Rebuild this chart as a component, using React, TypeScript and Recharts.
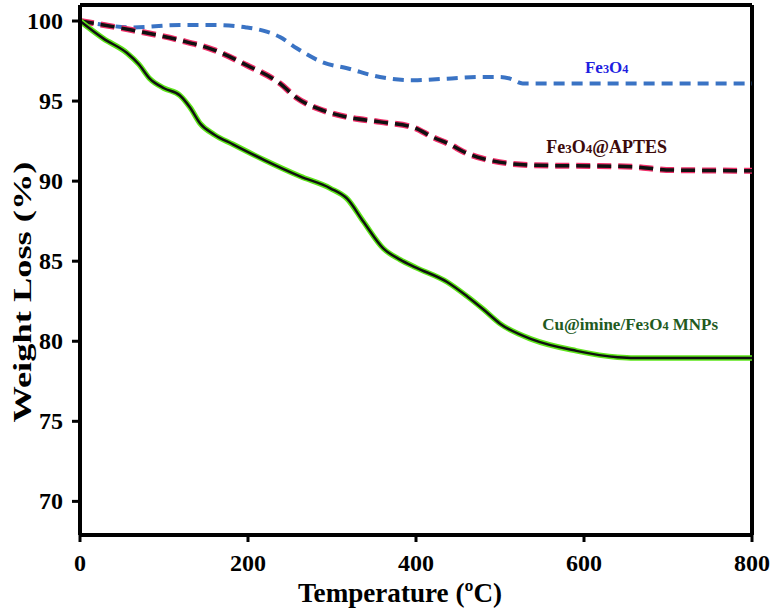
import React from 'react';
import { LineChart, Line, XAxis, YAxis, ReferenceDot, ReferenceLine } from 'recharts';

// temperature (°C) and weight (%)
const cuTemp = [0, 28, 56, 70, 83, 100, 119, 131, 143, 160, 182, 220, 262, 298, 318, 337, 361, 381, 400, 437, 461, 480, 500, 539, 591, 640, 660, 800];
const cuWeight = [100, 98.9, 98.0, 97.3, 96.4, 95.8, 95.35, 94.6, 93.6, 92.9, 92.3, 91.3, 90.3, 89.55, 88.9, 87.5, 85.8, 85.1, 84.6, 83.7, 82.8, 82.0, 81.1, 80.1, 79.4, 79.0, 78.95, 78.95];

const feTemp = [0, 30, 60, 119, 159, 198, 218, 238, 258, 290, 318, 357, 397, 437, 476, 500, 512, 527, 560, 800];
const feWeight = [100, 99.75, 99.6, 99.75, 99.75, 99.6, 99.4, 99.0, 98.3, 97.4, 97.05, 96.5, 96.3, 96.4, 96.5, 96.5, 96.4, 96.1, 96.1, 96.1];

const aptesTemp = [0, 60, 119, 159, 198, 238, 258, 290, 318, 357, 397, 420, 440, 460, 480, 539, 658, 698, 800];
const aptesWeight = [100, 99.45, 98.8, 98.2, 97.25, 96.1, 95.2, 94.4, 94.0, 93.7, 93.35, 92.75, 92.3, 91.75, 91.4, 91.0, 90.9, 90.7, 90.65];

const xTicks = [0, 200, 400, 600, 800];
const yTicks = [70, 75, 80, 85, 90, 95, 100];

const zip = (t: number[], w: number[]) => t.map((x, i) => ({ t: x, w: w[i] }));
const cuData = zip(cuTemp, cuWeight);
const feData = zip(feTemp, feWeight);
const aptesData = zip(aptesTemp, aptesWeight);

const FONT = '"Liberation Serif", "Times New Roman", serif';
const X_MAX = 800;
const Y_DOMAIN: [number, number] = [67.9, 101];

function XTick({ x, y, payload }: any) {
  return (
    <text x={x} y={y} dy={17} textAnchor="middle" fill="#000" fontSize={24} fontWeight="bold" fontFamily={FONT}>
      {payload.value}
    </text>
  );
}

function YTick({ x, y, payload }: any) {
  return (
    <text x={x} y={y} dy={8} textAnchor="end" fill="#000" fontSize={24} fontWeight="bold" fontFamily={FONT}>
      {payload.value}
    </text>
  );
}

// chemical formula with small digits
function Formula({ parts, size }: { parts: string[]; size: number }) {
  return (
    <>
      {parts.map((p, i) =>
        /^\d$/.test(p) ? (
          <tspan key={i} fontSize={size * 0.72}>{p}</tspan>
        ) : (
          <tspan key={i}>{p}</tspan>
        )
      )}
    </>
  );
}

function note(parts: string[], color: string, size: number) {
  return (props: any) => (
    <text
      x={props.cx}
      y={props.cy}
      textAnchor="middle"
      fill={color}
      fontSize={size}
      fontWeight="bold"
      fontFamily={FONT}
    >
      <Formula parts={parts} size={size} />
    </text>
  );
}

export default function App() {
  return (
    <div style={{ position: 'absolute', left: 0, top: 0, background: '#fff' }}>
      <LineChart width={774} height={615} margin={{ top: 5, right: 22, bottom: 0, left: 0 }}>
        <XAxis
          type="number"
          dataKey="t"
          domain={[0, X_MAX]}
          ticks={xTicks}
          height={80}
          axisLine={{ stroke: '#000', strokeWidth: 4 }}
          tickLine={{ stroke: '#000', strokeWidth: 3 }}
          tickSize={7}
          tickMargin={12}
          tick={<XTick />}
          label={{
            content: (p: any) => (
              <text
                x={p.viewBox.x + p.viewBox.width / 2 - 16}
                y={p.viewBox.y + 67}
                textAnchor="middle"
                fontSize={28}
                fontWeight="bold"
                fontFamily={FONT}
                fill="#000"
                textLength={204}
                lengthAdjust="spacingAndGlyphs"
              >
                Temperature (ºC)
              </text>
            ),
          }}
        />
        <YAxis
          type="number"
          domain={Y_DOMAIN}
          ticks={yTicks}
          allowDataOverflow
          width={80}
          axisLine={{ stroke: '#000', strokeWidth: 4 }}
          tickLine={{ stroke: '#000', strokeWidth: 3 }}
          tickSize={8}
          tickMargin={9}
          tick={<YTick />}
          label={{
            content: (p: any) => {
              const cx = 22;
              const cy = p.viewBox.y + p.viewBox.height / 2 + 22;
              return (
                <text
                  x={cx}
                  y={cy}
                  transform={`rotate(-90, ${cx}, ${cy})`}
                  textAnchor="middle"
                  dominantBaseline="central"
                  fontSize={26}
                  fontWeight="bold"
                  fontFamily={FONT}
                  fill="#000"
                  textLength={261}
                  lengthAdjust="spacingAndGlyphs"
                >
                  Weight Loss (%)
                </text>
              );
            },
          }}
        />

        {/* frame: top and right edges */}
        <ReferenceLine y={Y_DOMAIN[1]} stroke="#000" strokeWidth={4} />
        <ReferenceLine x={X_MAX} stroke="#000" strokeWidth={4} />

        <Line data={feData} dataKey="w" type="monotone" stroke="#3a73c4" strokeWidth={4}
          strokeDasharray="11 7" dot={false} isAnimationActive={false} />

        <Line data={aptesData} dataKey="w" type="monotone" stroke="#f0306a" strokeWidth={6}
          strokeDasharray="14 7" dot={false} isAnimationActive={false} />
        <Line data={aptesData} dataKey="w" type="monotone" stroke="#111" strokeWidth={3.5}
          strokeDasharray="14 7" dot={false} isAnimationActive={false} />

        <Line data={cuData} dataKey="w" type="monotone" stroke="#5ee61a" strokeWidth={5.5}
          dot={false} isAnimationActive={false} />
        <Line data={cuData} dataKey="w" type="monotone" stroke="#111" strokeWidth={2.5}
          dot={false} isAnimationActive={false} />

        <ReferenceDot x={627} y={96.75} r={0} shape={note(['Fe', '3', 'O', '4'], '#1f1fe0', 17)} />
        <ReferenceDot x={627} y={91.75} r={0}
          shape={note(['Fe', '3', 'O', '4', '@APTES'], '#3d0a0a', 18)} />
        <ReferenceDot x={655} y={80.69} r={0}
          shape={note(['Cu@imine/Fe', '3', 'O', '4', ' MNPs'], '#225a1e', 17)} />
      </LineChart>
    </div>
  );
}
